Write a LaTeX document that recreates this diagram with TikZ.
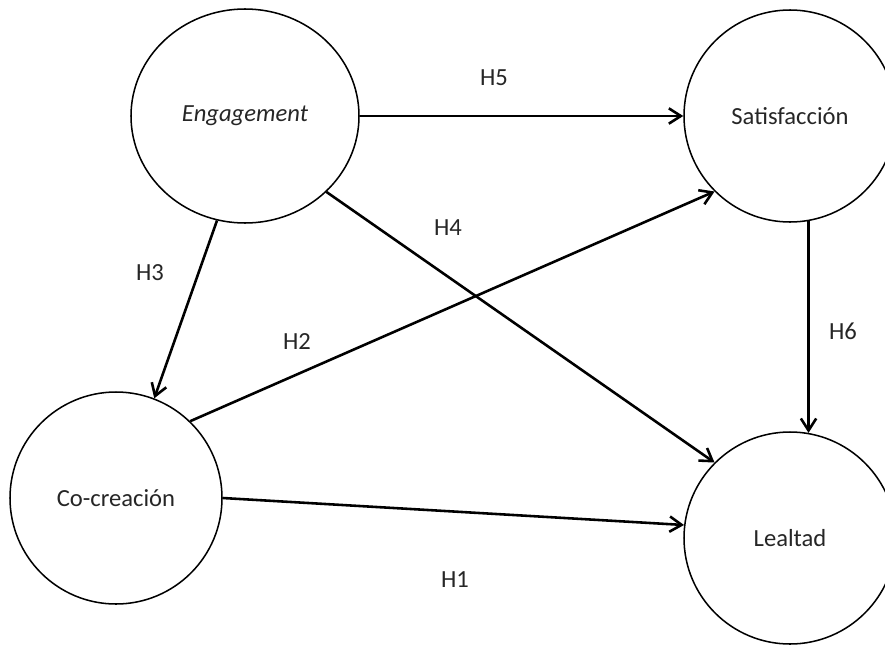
\documentclass[tikz,border=0pt]{standalone}
\usepackage{fontspec}
\setmainfont{Carlito}
\usepackage{tikz}
\usetikzlibrary{arrows.meta, shapes.geometric, positioning}
\newcommand\Fnt{\fontsize{21}{24}\selectfont}

\begin{document}
\begin{tikzpicture}[x=0.3mm, y=-0.3mm,
    construct/.style={circle, draw, line width=1.3pt, minimum size=63.6mm, inner sep=0pt, font=\Fnt, text=black!85},
    hyp/.style={line width=2.2pt, -{Straight Barb[length=3.6mm, width=4.6mm, line width=2.2pt]}},
    hlabel/.style={font=\Fnt, text=black!85}]
                \useasboundingbox (0,0) rectangle (885,646);
                \node[construct, ellipse, minimum width=68.4mm, minimum height=64.2mm] at (245,116) (eng) {\itshape Engagement};
                \node[construct] at (790,116) (sat) {Satisfacción};
                \node[construct] at (116,498) (coc) {Co-creación};
                \node[construct] at (790,538) (lea) {Lealtad};
                \draw[hyp] (eng.0) -- (sat.180);
                \draw[hyp] (eng.-43.2) -- (lea.135);
                \draw[hyp] (eng.-105.7) -- (coc.69.7);
                \draw[hyp] (coc.46.2) -- (sat.225.4);
                \draw[hyp] (coc.-0.5) -- (lea.173.8);
                \draw[hyp] (sat.-80.4) -- (lea.80.4);
                \node[hlabel] at (494,78) (h5) {H5};
                \node[hlabel] at (448,228) (h4) {H4};
                \node[hlabel] at (150,273) (h3) {H3};
                \node[hlabel] at (297,342) (h2) {H2};
                \node[hlabel] at (843,331) (h6) {H6};
                \node[hlabel] at (455,580) (h1) {H1};
            \end{tikzpicture}
\end{document}
